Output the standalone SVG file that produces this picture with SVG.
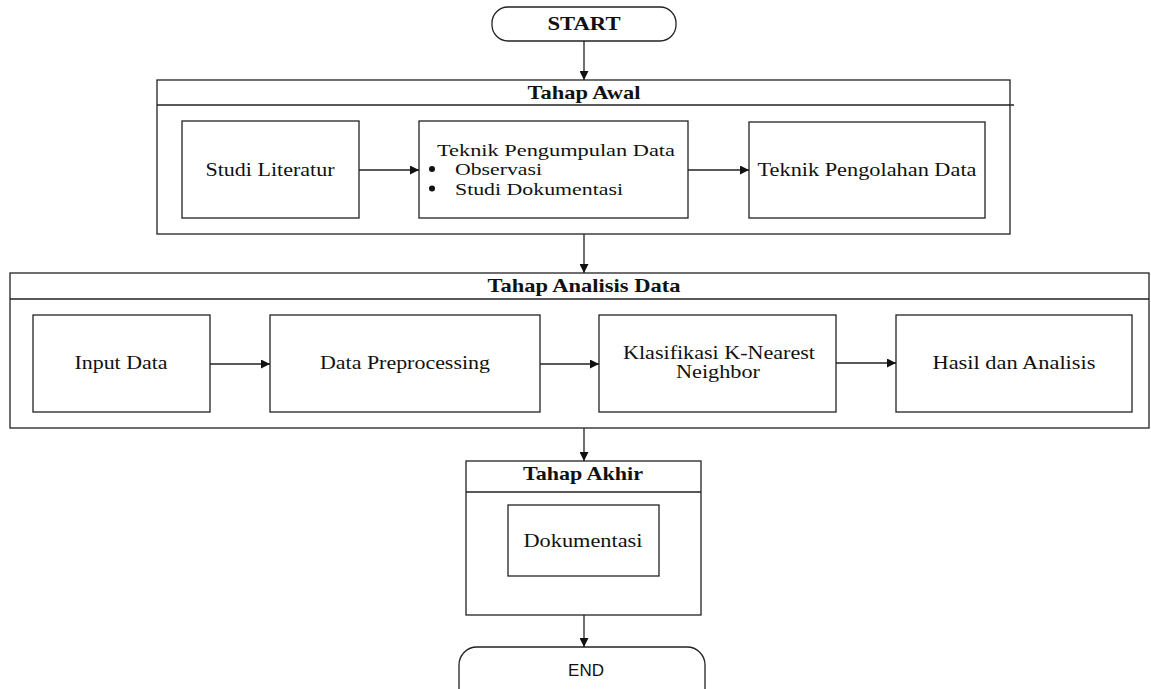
<svg xmlns="http://www.w3.org/2000/svg" width="1151" height="689" viewBox="0 0 1151 689">
<style>
.box{fill:#fff;stroke:#222;stroke-width:1.3}
.ln{fill:none;stroke:#222;stroke-width:1.3}
.t{font-family:"Liberation Serif","Times New Roman",serif;font-size:19px;fill:#111;text-anchor:middle}
.tl{font-family:"Liberation Serif","Times New Roman",serif;font-size:17px;fill:#111}
.b{font-family:"Liberation Serif","Times New Roman",serif;font-size:19px;font-weight:bold;fill:#111;text-anchor:middle}
.s{font-family:"Liberation Sans",Arial,sans-serif;font-size:17px;fill:#111;text-anchor:middle}
</style>
<defs>
<marker id="ah" viewBox="0 0 10 10" refX="10" refY="5" markerWidth="11" markerHeight="9" markerUnits="userSpaceOnUse" orient="auto">
<path d="M0,0 L10,5 L0,10 z" fill="#111"/>
</marker>
</defs>
<rect width="1151" height="689" fill="#fff"/>
<g id="start">
<rect class="box" x="492" y="7" width="184" height="34" rx="16" ry="16"/>
<text class="b" x="584" y="30" textLength="73" lengthAdjust="spacingAndGlyphs">START</text>
</g>
<g id="tahap-awal">
<rect class="box" x="157" y="80" width="853" height="154"/>
<line class="ln" x1="157" y1="105" x2="1014" y2="105"/>
<text class="b" x="584" y="99" textLength="113" lengthAdjust="spacingAndGlyphs">Tahap Awal</text>
</g>
<g id="studi-literatur">
<rect class="box" x="182" y="121" width="177" height="97"/>
<text class="t" x="270" y="176" textLength="129" lengthAdjust="spacingAndGlyphs">Studi Literatur</text>
</g>
<g id="teknik-pengumpulan">
<rect class="box" x="419" y="121" width="269" height="97"/>
<text class="tl" x="437" y="155.5" textLength="238" lengthAdjust="spacingAndGlyphs">Teknik Pengumpulan Data</text>
<circle cx="432" cy="169" r="3" fill="#111"/>
<text class="tl" x="455" y="175" textLength="87" lengthAdjust="spacingAndGlyphs">Observasi</text>
<circle cx="432" cy="188.5" r="3" fill="#111"/>
<text class="tl" x="455" y="194.5" textLength="168" lengthAdjust="spacingAndGlyphs">Studi Dokumentasi</text>
</g>
<g id="teknik-pengolahan">
<rect class="box" x="749" y="122" width="236" height="96"/>
<text class="t" x="867" y="176" textLength="219" lengthAdjust="spacingAndGlyphs">Teknik Pengolahan Data</text>
</g>
<g id="tahap-analisis">
<rect class="box" x="10" y="273" width="1139" height="155"/>
<line class="ln" x1="10" y1="299" x2="1149" y2="299"/>
<text class="b" x="584" y="292" textLength="193" lengthAdjust="spacingAndGlyphs">Tahap Analisis Data</text>
</g>
<g id="input-data">
<rect class="box" x="33" y="315" width="177" height="97"/>
<text class="t" x="121" y="369" textLength="93" lengthAdjust="spacingAndGlyphs">Input Data</text>
</g>
<g id="data-preprocessing">
<rect class="box" x="270" y="315" width="270" height="97"/>
<text class="t" x="405" y="369" textLength="170" lengthAdjust="spacingAndGlyphs">Data Preprocessing</text>
</g>
<g id="klasifikasi">
<rect class="box" x="599" y="315" width="237" height="97"/>
<text class="t" x="719" y="359" textLength="192" lengthAdjust="spacingAndGlyphs">Klasifikasi K-Nearest</text>
<text class="t" x="718" y="378" textLength="84" lengthAdjust="spacingAndGlyphs">Neighbor</text>
</g>
<g id="hasil">
<rect class="box" x="896" y="315" width="236" height="97"/>
<text class="t" x="1014" y="369" textLength="163" lengthAdjust="spacingAndGlyphs">Hasil dan Analisis</text>
</g>
<g id="tahap-akhir">
<rect class="box" x="466" y="461" width="235" height="154"/>
<line class="ln" x1="466" y1="492" x2="701" y2="492"/>
<text class="b" x="583" y="480" textLength="120" lengthAdjust="spacingAndGlyphs">Tahap Akhir</text>
</g>
<g id="dokumentasi">
<rect class="box" x="508" y="505" width="151" height="71"/>
<text class="t" x="583" y="547" textLength="119" lengthAdjust="spacingAndGlyphs">Dokumentasi</text>
</g>
<g id="end">
<rect class="box" x="459" y="647" width="246" height="60" rx="18" ry="18"/>
<text class="s" x="586" y="676">END</text>
</g>
<g id="connectors">
<line class="ln" x1="584" y1="41" x2="584" y2="80" marker-end="url(#ah)"/>
<line class="ln" x1="359" y1="170" x2="419" y2="170" marker-end="url(#ah)"/>
<line class="ln" x1="688" y1="170" x2="749" y2="170" marker-end="url(#ah)"/>
<line class="ln" x1="584" y1="234" x2="584" y2="273" marker-end="url(#ah)"/>
<line class="ln" x1="210" y1="364" x2="270" y2="364" marker-end="url(#ah)"/>
<line class="ln" x1="540" y1="364" x2="599" y2="364" marker-end="url(#ah)"/>
<line class="ln" x1="836" y1="363" x2="896" y2="363" marker-end="url(#ah)"/>
<line class="ln" x1="584" y1="428" x2="584" y2="461" marker-end="url(#ah)"/>
<line class="ln" x1="584" y1="615" x2="584" y2="647" marker-end="url(#ah)"/>
</g>
</svg>
